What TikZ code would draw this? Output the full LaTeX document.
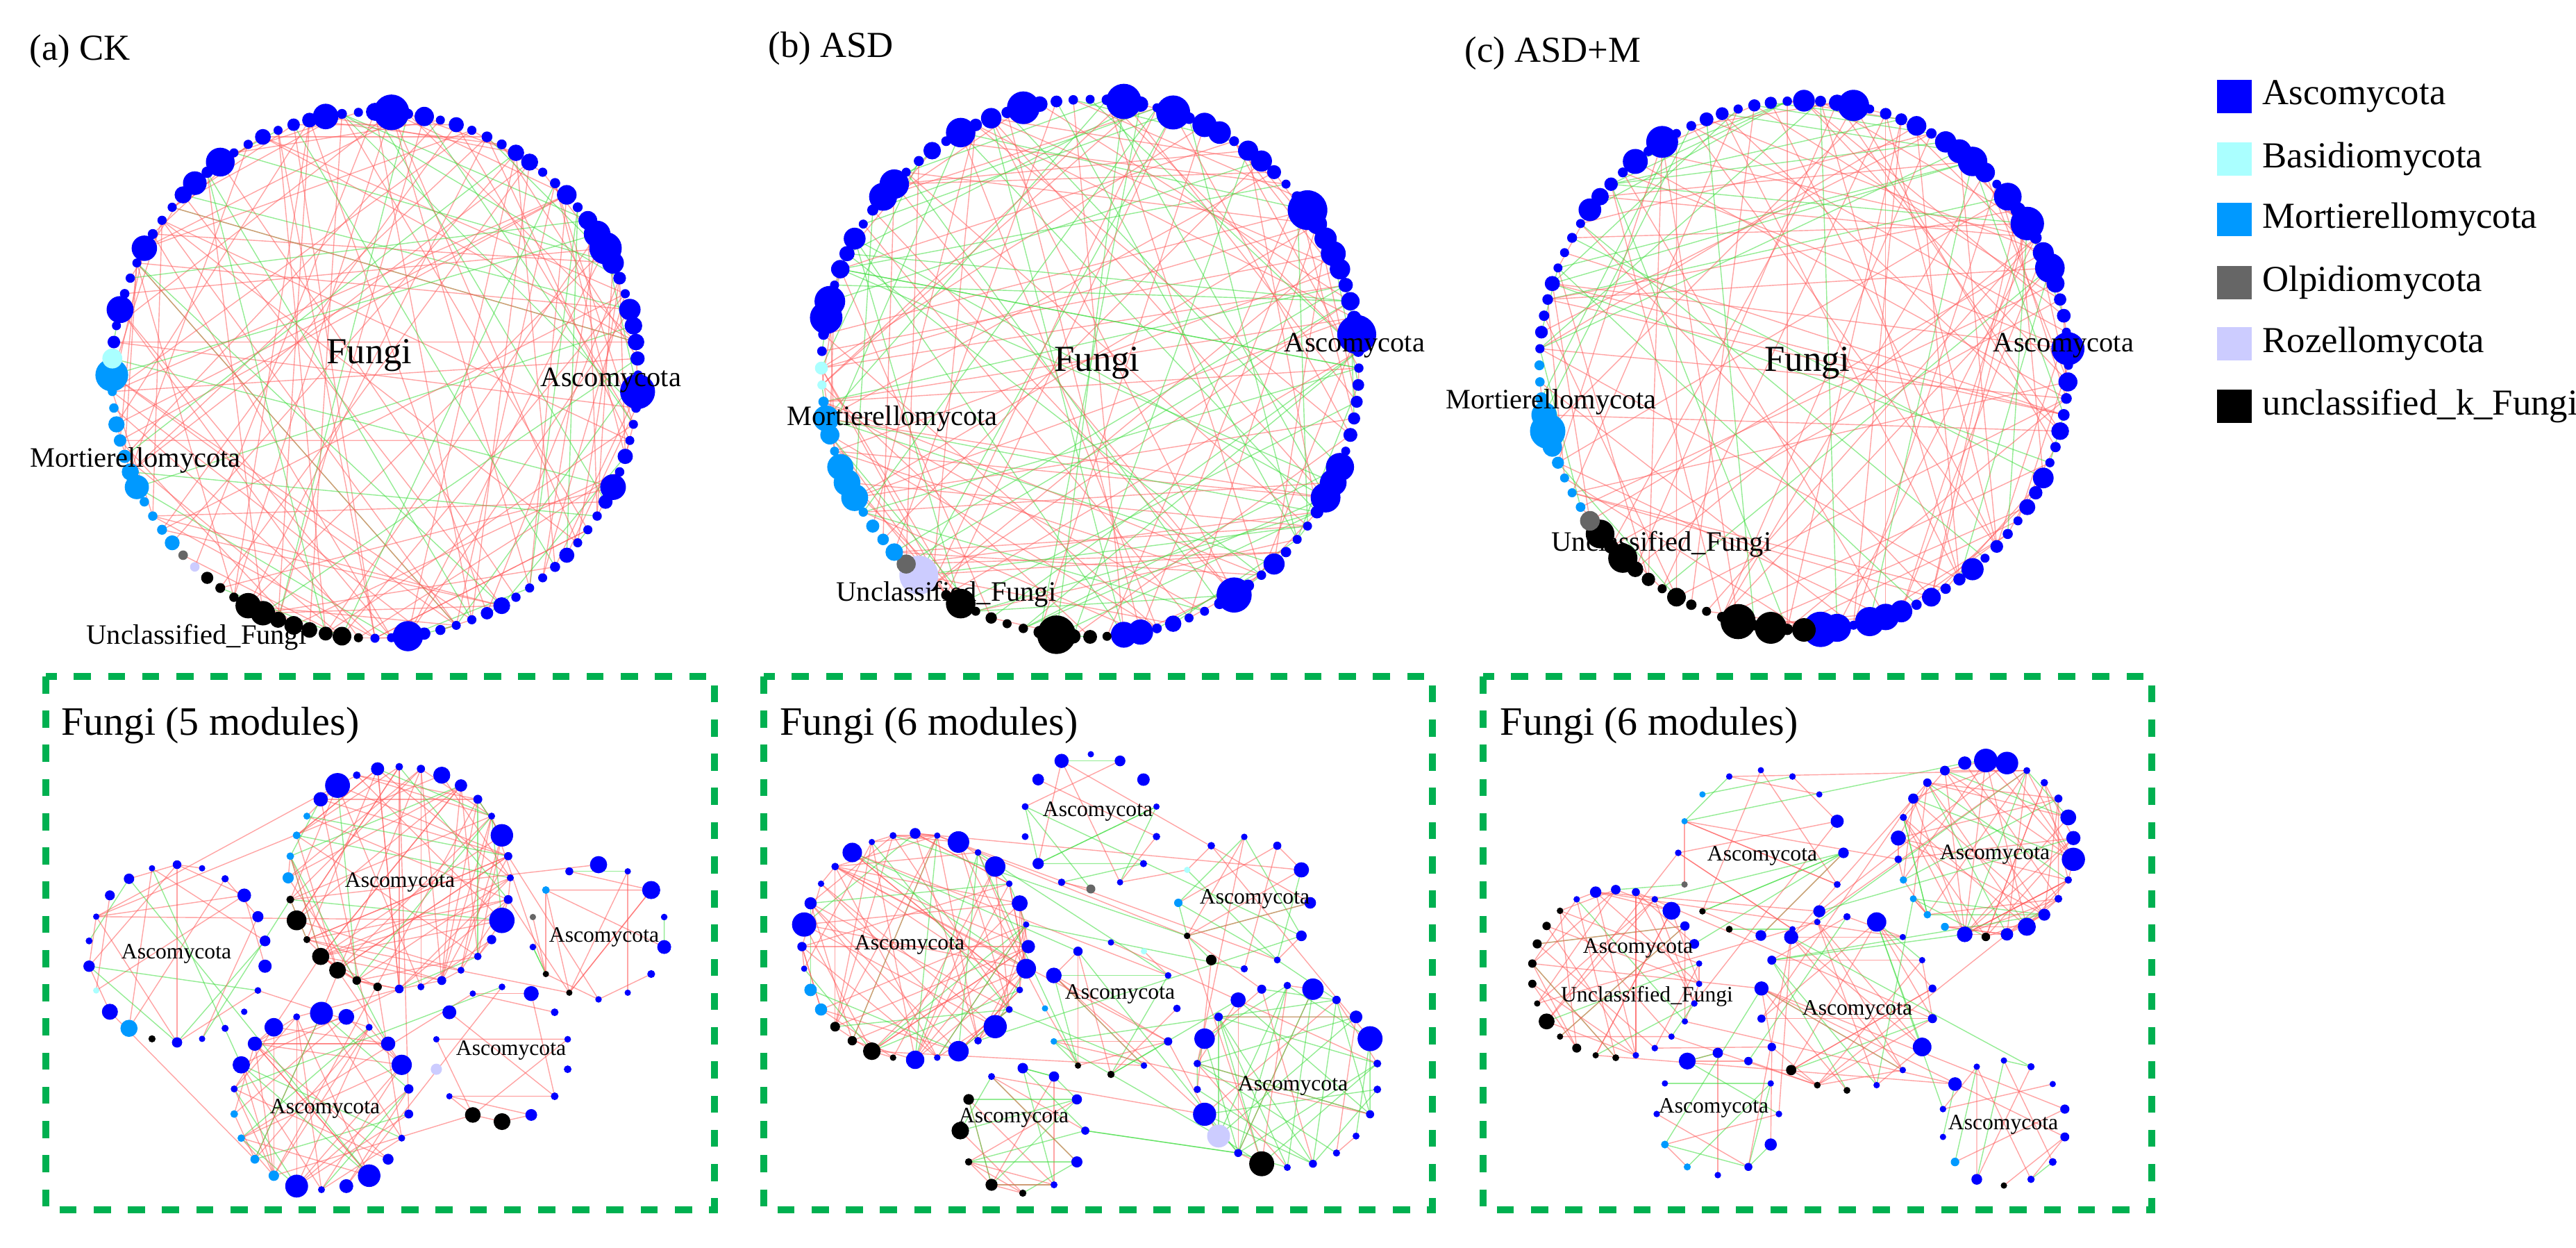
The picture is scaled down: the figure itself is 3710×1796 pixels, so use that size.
\documentclass[tikz,border=0pt]{standalone}
\usepackage{fontspec}
\setmainfont{Liberation Serif}
\usetikzlibrary{backgrounds}
\definecolor{Bl}{RGB}{0,0,255}
\definecolor{Ba}{RGB}{170,255,255}
\definecolor{Mo}{RGB}{0,153,255}
\definecolor{Ol}{RGB}{102,102,102}
\definecolor{Ro}{RGB}{204,204,255}
\definecolor{Uk}{RGB}{0,0,0}
\definecolor{boxg}{RGB}{0,176,80}
\definecolor{edr}{RGB}{255,90,90}
\definecolor{edg}{RGB}{60,220,60}
\tikzset{
  dot/.style={circle,inner sep=0pt,draw=none},
  er/.style={edr,line width=0.4pt,opacity=0.55},
  eg/.style={edg,line width=0.4pt,opacity=0.55},
  boxst/.style={boxg,line width=2.8pt,dash pattern=on 7pt off 7pt},
  ttl/.style={font=\fontsize{15}{17}\selectfont,anchor=west,inner sep=0pt},
  cen/.style={font=\fontsize{15}{17}\selectfont,inner sep=0pt},
  lab/.style={font=\fontsize{11.5}{13}\selectfont,inner sep=0pt},
  mlab/.style={font=\fontsize{9}{10}\selectfont,inner sep=0pt},
  mtitle/.style={font=\fontsize{16.5}{18}\selectfont,anchor=west,inner sep=0pt},
  leg/.style={font=\fontsize{15}{17}\selectfont,anchor=west,inner sep=0pt},
  legsq/.style={minimum width=14.2pt,minimum height=13.6pt,inner sep=0pt,draw=none}
}
% #1 name #2 cx #3 cy #4 r #5 N #6 dmin #7 dspan #8 specs
\newcommand\myring[8]{%
  \foreach \i in {1,...,#5}{%
    \gdef\curc{Bl}%
    \foreach \cc/\lo/\hi in {#8}{\ifnum\i<\lo\relax\else\ifnum\i>\hi\relax\else\global\let\curc\cc\fi\fi}%
    \pgfmathsetmacro\ang{90-(\i-1)*(360/#5)}%
    \pgfmathsetmacro\dd{(#6+#7*rnd^3)*0.2845}%
    \node[dot,fill=\curc,minimum size=\dd pt] (#1-\i) at ({#2+#4*cos(\ang)},{#3-#4*sin(\ang)}) {};
  }}
% #1 nameA #2 NA #3 nameB #4 NB #5 count #6 green fraction
\newcommand\mylinks[6]{%
  \begin{pgfonlayer}{background}
  \foreach \k in {1,...,#5}{%
    \pgfmathrandominteger{\ia}{1}{#2}%
    \pgfmathrandominteger{\ib}{1}{#4}%
    \pgfmathsetmacro\rr{rnd}%
    \ifdim\rr pt<#6pt\def\st{eg}\else\def\st{er}\fi
    \draw[\st] (#1-\ia.center) -- (#3-\ib.center);
  }
  \end{pgfonlayer}}
\begin{document}
\begin{tikzpicture}[x=0.01cm,y=-0.01cm]
\useasboundingbox (0,0) rectangle (3710,1796);
% titles
\node[ttl] (ta) at (42,74) {(a) CK};
\node[ttl] (tb) at (1106,70) {(b) ASD};
\node[ttl] (tc) at (2109,77) {(c) ASD+M};
% big networks
\pgfmathsetseed{11}
\myring{A}{540}{540}{379}{100}{13}{45}{Uk/52/62,Ro/63/63,Ol/64/64,Mo/65/76,Ba/77/77}
\mylinks{A}{100}{A}{100}{170}{0.2}
\pgfmathsetseed{23}
\myring{B}{1570}{530}{387}{100}{13}{45}{Uk/50/61,Ro/62/62,Ol/63/63,Mo/64/74,Ba/75/76}
\mylinks{B}{100}{B}{100}{180}{0.4}
\pgfmathsetseed{37}
\myring{C}{2598}{526}{381}{100}{13}{42}{Uk/51/65,Ol/66/66,Mo/67/76}
\mylinks{C}{100}{C}{100}{150}{0.28}
\node[cen] (fa) at (532,512) {Fungi};
\node[lab] (aa) at (880,547) {Ascomycota};
\node[lab] (ma) at (195,663) {Mortierellomycota};
\node[lab] (ua) at (283,918) {Unclassified\_Fungi};
\node[cen] (fb) at (1580,523) {Fungi};
\node[lab] (ab) at (1951,497) {Ascomycota};
\node[lab] (mb) at (1285,603) {Mortierellomycota};
\node[lab] (ub) at (1363,856) {Unclassified\_Fungi};
\node[cen] (fc) at (2603,523) {Fungi};
\node[lab] (ac) at (2972,497) {Ascomycota};
\node[lab] (mc) at (2234,579) {Mortierellomycota};
\node[lab] (uc) at (2393,784) {Unclassified\_Fungi};
% legend
\foreach \c/\t/\y [count=\n] in {Bl/Ascomycota/139,Ba/Basidiomycota/229,Mo/Mortierellomycota/316,Ol/Olpidiomycota/407,Ro/Rozellomycota/495,Uk/unclassified\_k\_Fungi/585}{
  \node[legsq,fill=\c] (ls\n) at (3218,\y) {};
  \node[leg] (lt\n) at (3258,\y) {\t};
}
% boxes
\draw[boxst] (66,974) rectangle (1029,1742);
\draw[boxst] (1100,974) rectangle (2063,1742);
\draw[boxst] (2136,974) rectangle (3099,1742);
\node[mtitle] (mta) at (88,1045) {Fungi (5 modules)};
\node[mtitle] (mtb) at (1123,1045) {Fungi (6 modules)};
\node[mtitle] (mtc) at (2160,1045) {Fungi (6 modules)};
% panel a modules
\pgfmathsetseed{101}
\myring{a1}{575}{1264}{160}{32}{10}{30}{Uk/18/24,Mo/25/28}
\myring{a2}{255}{1373}{128}{22}{9}{16}{Uk/13/13,Mo/14/14,Ba/16/16}
\myring{a3}{463}{1586}{127}{22}{10}{26}{Mo/14/17}
\myring{a4}{862}{1342}{97}{14}{9}{18}{Uk/9/10,Ol/12/12,Mo/13/13}
\myring{a5}{723}{1518}{97}{14}{9}{16}{Uk/8/9,Ro/11/11}
\mylinks{a1}{32}{a1}{32}{100}{0.12}
\mylinks{a2}{22}{a2}{22}{22}{0.3}
\mylinks{a3}{22}{a3}{22}{50}{0.2}
\mylinks{a4}{14}{a4}{14}{16}{0.45}
\mylinks{a5}{14}{a5}{14}{12}{0.2}
\mylinks{a1}{32}{a3}{22}{10}{0.3}
\mylinks{a1}{32}{a2}{22}{4}{0.3}
\mylinks{a1}{32}{a4}{14}{5}{0.4}
\mylinks{a3}{22}{a5}{14}{4}{0.3}
\mylinks{a2}{22}{a3}{22}{4}{0.3}
\node[mlab] (la1) at (576,1270) {Ascomycota};
\node[mlab] (la2) at (254,1373) {Ascomycota};
\node[mlab] (la3) at (468,1596) {Ascomycota};
\node[mlab] (la4) at (870,1349) {Ascomycota};
\node[mlab] (la5) at (736,1512) {Ascomycota};
% panel b modules
\pgfmathsetseed{202}
\myring{b1}{1318}{1363}{163}{32}{9}{26}{Uk/18/21,Mo/22/23}
\myring{b2}{1571}{1183}{97}{14}{9}{12}{Ol/8/8}
\myring{b3}{1792}{1300}{95}{12}{9}{16}{Uk/8/9,Mo/10/10,Ba/11/11}
\myring{b4}{1600}{1452}{95}{12}{9}{16}{Ba/2/2,Uk/7/8,Mo/9/10}
\myring{b5}{1473}{1628}{90}{12}{10}{16}{Uk/7/11}
\myring{b6}{1854}{1550}{131}{22}{10}{26}{Uk/13/13,Ro/15/15}
\mylinks{b1}{32}{b1}{32}{100}{0.2}
\mylinks{b2}{14}{b2}{14}{14}{0.5}
\mylinks{b3}{12}{b3}{12}{16}{0.5}
\mylinks{b4}{12}{b4}{12}{16}{0.4}
\mylinks{b5}{12}{b5}{12}{30}{0.45}
\mylinks{b6}{22}{b6}{22}{55}{0.55}
\mylinks{b1}{32}{b4}{12}{8}{0.4}
\mylinks{b1}{32}{b3}{12}{6}{0.4}
\mylinks{b4}{12}{b6}{22}{8}{0.4}
\mylinks{b3}{12}{b6}{22}{6}{0.4}
\mylinks{b5}{12}{b6}{22}{3}{0.6}
\mylinks{b2}{14}{b3}{12}{3}{0.4}
\node[mlab] (lb1) at (1310,1360) {Ascomycota};
\node[mlab] (lb2) at (1581,1168) {Ascomycota};
\node[mlab] (lb3) at (1807,1294) {Ascomycota};
\node[mlab] (lb4) at (1613,1431) {Ascomycota};
\node[mlab] (lb5) at (1460,1609) {Ascomycota};
\node[mlab] (lb6) at (1862,1563) {Ascomycota};
% panel c modules
\pgfmathsetseed{303}
\myring{c1}{2860}{1222}{127}{26}{10}{28}{Uk/14/14,Mo/16/19}
\myring{c2}{2536}{1228}{119}{16}{9}{16}{Uk/10/11,Ol/12/12,Mo/14/15}
\myring{c3}{2327}{1402}{121}{26}{9}{18}{Uk/14/24}
\myring{c4}{2660}{1445}{125}{18}{9}{20}{Uk/10/12}
\myring{c5}{2474}{1604}{88}{12}{9}{18}{Mo/8/9}
\myring{c6}{2886}{1617}{90}{14}{9}{14}{Uk/8/8,Mo/10/10}
\mylinks{c1}{26}{c1}{26}{75}{0.2}
\mylinks{c2}{16}{c2}{16}{18}{0.35}
\mylinks{c3}{26}{c3}{26}{50}{0.2}
\mylinks{c4}{18}{c4}{18}{35}{0.2}
\mylinks{c5}{12}{c5}{12}{14}{0.4}
\mylinks{c6}{14}{c6}{14}{14}{0.4}
\mylinks{c1}{26}{c4}{18}{8}{0.3}
\mylinks{c2}{16}{c1}{26}{5}{0.3}
\mylinks{c3}{26}{c2}{16}{6}{0.4}
\mylinks{c3}{26}{c4}{18}{6}{0.2}
\mylinks{c4}{18}{c5}{12}{6}{0.2}
\mylinks{c4}{18}{c6}{14}{4}{0.3}
\mylinks{c3}{26}{c6}{14}{2}{0.2}
\node[mlab] (lc1) at (2873,1230) {Ascomycota};
\node[mlab] (lc2) at (2538,1232) {Ascomycota};
\node[mlab] (lc3) at (2359,1365) {Ascomycota};
\node[mlab] (lc3u) at (2372,1435) {Unclassified\_Fungi};
\node[mlab] (lc4) at (2675,1454) {Ascomycota};
\node[mlab] (lc5) at (2468,1595) {Ascomycota};
\node[mlab] (lc6) at (2885,1619) {Ascomycota};
\end{tikzpicture}
\end{document}
